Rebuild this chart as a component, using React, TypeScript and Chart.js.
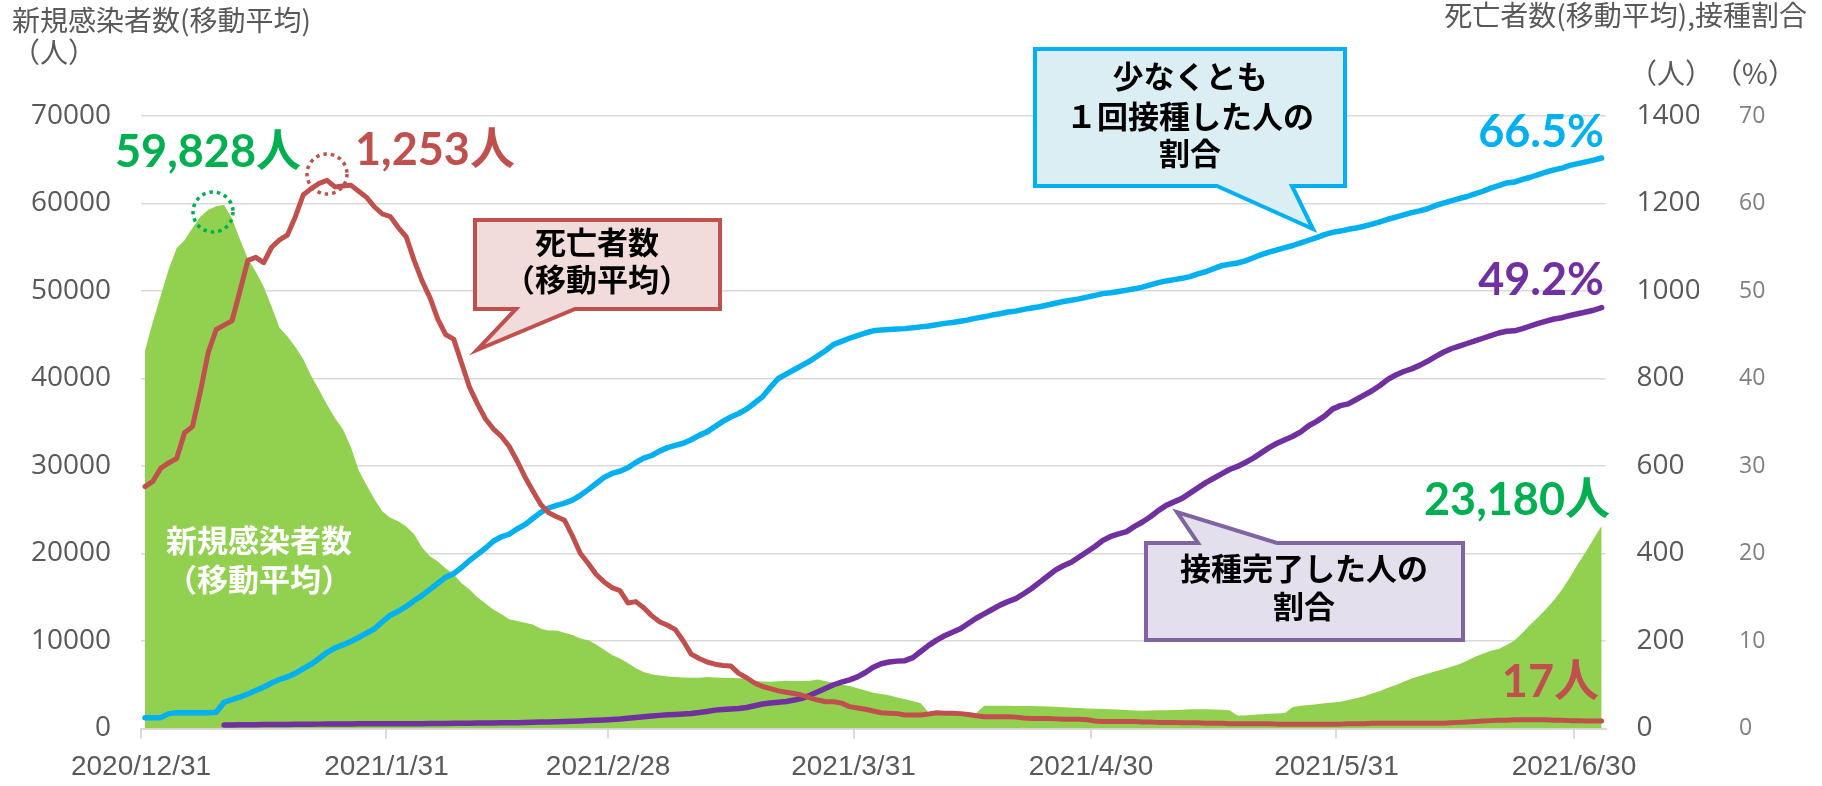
import React, { useEffect, useRef } from 'react';
import { Chart, registerables } from 'chart.js';

Chart.register(...registerables);

// ---- categories (daily, 2020/12/31 .. 2021/7/3) ----
const CATEGORIES: string[] = (() => {
  const out: string[] = [];
  for (let i = 0; i < 185; i++) {
    const d = new Date(2020, 11, 31 + i);
    out.push(`${d.getFullYear()}/${d.getMonth() + 1}/${d.getDate()}`);
  }
  return out;
})();

const TICK_LABELS = ['2020/12/31', '2021/1/31', '2021/2/28', '2021/3/31', '2021/4/30', '2021/5/31', '2021/6/30'];

// 新規感染者数(移動平均) (人)
const NEW_CASES = [
  43200, 46500, 49500, 52500, 54900, 55800, 57200, 58500, 59300, 59700,
  59828, 58300, 55900, 53700, 52200, 50500, 48200, 45800, 44800, 43600,
  42200, 40300, 38700, 37000, 35500, 34200, 32200, 29500, 27800, 26200,
  24800, 24100, 23700, 23100, 22200, 20700, 19700, 19100, 18300, 17600,
  16600, 15900, 15000, 14300, 13600, 13100, 12500, 12300, 12100, 11900,
  11400, 11200, 11200, 10950, 10700, 10300, 10100, 9600, 9000, 8400,
  8000, 7500, 6900, 6450, 6200, 6050, 5950, 5880, 5820, 5810,
  5810, 5890, 5830, 5800, 5770, 5730, 5690, 5450, 5380, 5350,
  5400, 5460, 5430, 5440, 5460, 5600, 5400, 5200, 5000, 4850,
  4600, 4350, 4100, 3950, 3800, 3550, 3350, 3150, 2900, 1800,
  1780, 1770, 1760, 1760, 1750, 1760, 2600, 2600, 2590, 2590,
  2580, 2570, 2560, 2540, 2510, 2480, 2430, 2380, 2330, 2280,
  2250, 2220, 2200, 2160, 2110, 2070, 2040, 2060, 2080, 2100,
  2120, 2150, 2190, 2200, 2190, 2160, 2130, 2100, 1480, 1500,
  1560, 1620, 1680, 1720, 1760, 2450, 2600, 2680, 2780, 2880,
  2980, 3070, 3250, 3450, 3700, 4000, 4300, 4650, 4980, 5350,
  5720, 6000, 6250, 6530, 6760, 7050, 7350, 7750, 8200, 8550,
  8900, 9100, 9550, 10050, 10950, 11900, 12750, 13700, 14700, 15900,
  17300, 18800, 20200, 21700, 23180,
];

// 死亡者数(移動平均) (人)
const DEATHS = [
  553, 565, 595, 607, 617, 676, 690, 770, 860, 912,
  922, 932, 1000, 1070, 1077, 1065, 1100, 1117, 1128, 1170,
  1220, 1234, 1246, 1253, 1238, 1240, 1242, 1228, 1214, 1192,
  1176, 1170, 1145, 1124, 1070, 1023, 985, 935, 900, 890,
  835, 780, 742, 708, 685, 668, 645, 612, 575, 543,
  512, 493, 484, 476, 440, 400, 377, 352, 335, 322,
  315, 287, 290, 276, 258, 244, 236, 226, 200, 170,
  160, 152, 147, 144, 143, 126, 116, 104, 96, 91,
  86, 83, 80, 76, 70, 65, 61, 61, 58, 50,
  47, 44, 40, 36, 35, 34, 31, 31, 31, 33,
  36, 35, 35, 34, 32, 29, 27, 27, 27, 27,
  26, 24, 23, 23, 23, 22, 21, 21, 21, 20,
  17, 16, 16, 16, 16, 16, 15, 15, 14, 14,
  14, 13, 13, 13, 12, 12, 12, 11, 11, 11,
  11, 11, 11, 10, 10, 10, 10, 10, 10, 10,
  10, 10, 11, 11, 11, 12, 12, 12, 12, 12,
  12, 12, 12, 12, 12, 13, 14, 15, 16, 17,
  18, 19, 19, 20, 20, 20, 20, 20, 19, 19,
  18, 18, 17, 17, 17,
];

// 少なくとも1回接種した人の割合 (%)
const FIRST_DOSE_PCT = [
  1.24, 1.24, 1.24, 1.7, 1.81, 1.81, 1.81, 1.81, 1.81, 1.85,
  3.0, 3.3, 3.6, 3.95, 4.35, 4.75, 5.2, 5.6, 5.9, 6.3,
  6.85, 7.35, 8.0, 8.7, 9.2, 9.55, 9.95, 10.4, 10.9, 11.4,
  12.2, 12.95, 13.4, 13.95, 14.6, 15.2, 15.9, 16.6, 17.3, 17.7,
  18.4, 19.2, 19.9, 20.6, 21.4, 21.9, 22.2, 22.8, 23.3, 24.0,
  24.7, 25.2, 25.5, 25.75, 26.1, 26.65, 27.3, 28.0, 28.7, 29.15,
  29.4, 29.8, 30.4, 30.9, 31.2, 31.7, 32.1, 32.35, 32.6, 33.0,
  33.5, 33.9, 34.5, 35.1, 35.6, 36.0, 36.5, 37.2, 37.9, 39.0,
  40.0, 40.5, 41.0, 41.5, 42.0, 42.6, 43.2, 43.9, 44.25, 44.6,
  44.9, 45.2, 45.45, 45.55, 45.6, 45.65, 45.7, 45.8, 45.9, 46.0,
  46.15, 46.3, 46.4, 46.55, 46.7, 46.9, 47.05, 47.25, 47.4, 47.6,
  47.7, 47.9, 48.05, 48.2, 48.4, 48.6, 48.8, 48.95, 49.1, 49.3,
  49.5, 49.7, 49.8, 49.95, 50.1, 50.25, 50.45, 50.7, 50.95, 51.15,
  51.3, 51.45, 51.65, 51.95, 52.2, 52.55, 52.9, 53.05, 53.2, 53.45,
  53.8, 54.15, 54.45, 54.7, 54.95, 55.2, 55.5, 55.8, 56.1, 56.45,
  56.7, 56.85, 57.05, 57.2, 57.4, 57.65, 57.9, 58.2, 58.45, 58.7,
  58.95, 59.15, 59.4, 59.75, 60.05, 60.3, 60.55, 60.8, 61.1, 61.4,
  61.75, 62.05, 62.35, 62.45, 62.75, 63.0, 63.3, 63.6, 63.85, 64.05,
  64.35, 64.55, 64.75, 64.95, 65.2,
];

// 接種完了した人の割合 (%)
const FULLY_VACC_PCT = [
  null, null, null, null, null, null, null, null, null, null,
  0.40, 0.41, 0.42, 0.43, 0.44, 0.45, 0.46, 0.46, 0.47, 0.48,
  0.48, 0.49, 0.50, 0.51, 0.52, 0.52, 0.52, 0.53, 0.53, 0.53,
  0.54, 0.54, 0.54, 0.55, 0.55, 0.55, 0.56, 0.57, 0.58, 0.59,
  0.60, 0.61, 0.62, 0.63, 0.64, 0.65, 0.66, 0.67, 0.69, 0.71,
  0.73, 0.75, 0.77, 0.79, 0.83, 0.87, 0.91, 0.95, 0.98, 1.02,
  1.08, 1.17, 1.26, 1.35, 1.44, 1.50, 1.56, 1.61, 1.66, 1.72,
  1.82, 1.95, 2.10, 2.18, 2.23, 2.28, 2.40, 2.60, 2.80, 2.92,
  3.00, 3.08, 3.25, 3.45, 3.80, 4.20, 4.60, 5.00, 5.30, 5.55,
  5.90, 6.40, 7.00, 7.40, 7.60, 7.70, 7.75, 8.10, 8.80, 9.50,
  10.1, 10.6, 11.0, 11.4, 12.0, 12.6, 13.1, 13.6, 14.1, 14.5,
  14.85, 15.4, 16.0, 16.7, 17.4, 18.1, 18.6, 19.0, 19.6, 20.2,
  20.8, 21.5, 21.95, 22.25, 22.5, 23.1, 23.6, 24.2, 24.9, 25.5,
  25.9, 26.3, 26.9, 27.5, 28.1, 28.6, 29.1, 29.6, 29.95, 30.4,
  30.9, 31.5, 32.1, 32.6, 33.0, 33.4, 33.9, 34.6, 35.1, 35.7,
  36.5, 36.9, 37.1, 37.6, 38.1, 38.6, 39.2, 39.9, 40.4, 40.8,
  41.1, 41.5, 41.97, 42.5, 43.0, 43.4, 43.7, 44.0, 44.3, 44.6,
  44.9, 45.2, 45.4, 45.45, 45.7, 46.0, 46.3, 46.55, 46.8, 46.95,
  47.2, 47.4, 47.6, 47.8, 48.1,
];

const LEFT_TICKS_MAX = 70000;
const DEATH_TICKS_MAX = 1400;
const PCT_TICKS_MAX = 70;

const JP = '"Noto Sans CJK JP", "Noto Sans", sans-serif';
const NUM = 'Lato, "Noto Sans CJK JP", sans-serif';

function drawText(ctx: CanvasRenderingContext2D, str: string, x: number, y: number, font: string, color: string, align: CanvasTextAlign) {
  ctx.font = font;
  ctx.fillStyle = color;
  ctx.textAlign = align;
  ctx.textBaseline = 'middle';
  ctx.fillText(str, x, y);
}

function callout(ctx: CanvasRenderingContext2D, pts: number[][], fill: string, stroke: string) {
  ctx.beginPath();
  ctx.moveTo(pts[0][0], pts[0][1]);
  for (let i = 1; i < pts.length; i++) ctx.lineTo(pts[i][0], pts[i][1]);
  ctx.closePath();
  ctx.fillStyle = fill;
  ctx.fill();
  ctx.lineWidth = 4;
  ctx.lineJoin = 'miter';
  ctx.strokeStyle = stroke;
  ctx.stroke();
}

function dottedCircle(ctx: CanvasRenderingContext2D, cx: number, cy: number, r: number, color: string) {
  ctx.save();
  ctx.setLineDash([3.5, 4]);
  ctx.lineWidth = 3.5;
  ctx.strokeStyle = color;
  ctx.beginPath();
  ctx.arc(cx, cy, r, 0, Math.PI * 2);
  ctx.stroke();
  ctx.restore();
}

const annotationPlugin = {
  id: 'annotations',
  afterDraw(chart: any) {
    const ctx: CanvasRenderingContext2D = chart.ctx;
    ctx.save();
    // axis titles
    drawText(ctx, '新規感染者数(移動平均)', 12, 20, `28px ${JP}`, '#595959', 'left');
    drawText(ctx, '（人）', 54, 52, `28px ${JP}`, '#595959', 'center');
    drawText(ctx, '死亡者数(移動平均),接種割合', 1807, 15, `28px ${JP}`, '#595959', 'right');
    drawText(ctx, '（人）', 1671, 73, `28px ${JP}`, '#595959', 'center');
    drawText(ctx, '（%）', 1755, 73, `28px ${JP}`, '#595959', 'center');

    // peak markers
    dottedCircle(ctx, 213, 212, 20, '#00b050');
    dottedCircle(ctx, 327, 174, 20, '#c0504d');

    // value labels
    drawText(ctx, '59,828人', 115, 152, `bold 45px ${NUM}`, '#00b050', 'left');
    drawText(ctx, '1,253人', 355, 150, `bold 45px ${NUM}`, '#c0504d', 'left');
    drawText(ctx, '66.5%', 1604, 132, `bold 45px ${NUM}`, '#00b0f0', 'right');
    drawText(ctx, '49.2%', 1604, 280, `bold 45px ${NUM}`, '#7030a0', 'right');
    drawText(ctx, '23,180人', 1610, 500, `bold 45px ${NUM}`, '#00b050', 'right');
    drawText(ctx, '17人', 1599, 682, `bold 45px ${NUM}`, '#c0504d', 'right');

    // in-area label
    drawText(ctx, '新規感染者数', 259, 540, `bold 31px ${JP}`, '#ffffff', 'center');
    drawText(ctx, '（移動平均）', 259, 579, `bold 31px ${JP}`, '#ffffff', 'center');

    // callouts
    callout(ctx, [[475, 220], [720, 220], [720, 309], [575, 309], [477, 350], [516, 309], [475, 309]], '#f2dcdb', '#c0504d');
    drawText(ctx, '死亡者数', 597, 242, `bold 31px ${JP}`, '#000000', 'center');
    drawText(ctx, '（移動平均）', 597, 279, `bold 31px ${JP}`, '#000000', 'center');

    callout(ctx, [[1035, 49], [1345, 49], [1345, 186], [1292, 186], [1313, 229], [1217, 186], [1035, 186]], '#daeef3', '#00b0f0');
    drawText(ctx, '少なくとも', 1190, 76, `bold 31px ${JP}`, '#000000', 'center');
    drawText(ctx, '１回接種した人の', 1190, 116, `bold 31px ${JP}`, '#000000', 'center');
    drawText(ctx, '割合', 1190, 153, `bold 31px ${JP}`, '#000000', 'center');

    callout(ctx, [[1146, 543], [1198, 543], [1177, 512], [1277, 543], [1463, 543], [1463, 640], [1146, 640]], '#e4dfec', '#8064a2');
    drawText(ctx, '接種完了した人の', 1304, 568, `bold 31px ${JP}`, '#000000', 'center');
    drawText(ctx, '割合', 1304, 606, `bold 31px ${JP}`, '#000000', 'center');

    ctx.restore();
  },
};

export default function App() {
  const ref = useRef<HTMLCanvasElement | null>(null);

  useEffect(() => {
    if (!ref.current) return;
    const chart = new Chart(ref.current, {
      type: 'line',
      data: {
        labels: CATEGORIES,
        datasets: [
          {
            label: '新規感染者数(移動平均)',
            data: NEW_CASES,
            yAxisID: 'y',
            fill: 'origin',
            backgroundColor: '#92d050',
            borderColor: 'rgba(0,0,0,0)',
            borderWidth: 0,
            pointRadius: 0,
            tension: 0,
            order: 10,
          },
          {
            label: '少なくとも1回接種した人の割合',
            data: FIRST_DOSE_PCT,
            yAxisID: 'y2',
            fill: false,
            borderColor: '#00b0f0',
            borderWidth: 5.5,
            borderCapStyle: 'round',
            borderJoinStyle: 'round',
            pointRadius: 0,
            tension: 0,
            order: 3,
          },
          {
            label: '接種完了した人の割合',
            data: FULLY_VACC_PCT,
            yAxisID: 'y2',
            fill: false,
            borderColor: '#7030a0',
            borderWidth: 5.5,
            borderCapStyle: 'round',
            borderJoinStyle: 'round',
            pointRadius: 0,
            tension: 0,
            order: 2,
          },
          {
            label: '死亡者数(移動平均)',
            data: DEATHS,
            yAxisID: 'y1',
            fill: false,
            borderColor: '#c0504d',
            borderWidth: 5,
            borderCapStyle: 'round',
            borderJoinStyle: 'round',
            pointRadius: 0,
            tension: 0,
            order: 1,
          },
        ],
      },
      options: {
        responsive: false,
        maintainAspectRatio: false,
        devicePixelRatio: 1,
        animation: false,
        events: [],
        layout: { padding: { top: 116, left: 0, right: 0, bottom: 0 } },
        plugins: {
          legend: { display: false },
          tooltip: { enabled: false },
          title: { display: false },
        },
        scales: {
          x: {
            type: 'category',
            offset: true,
            grid: {
              offset: true,
              drawOnChartArea: false,
              drawTicks: true,
              tickLength: 10,
              lineWidth: 2,
              color: (c: any) => (TICK_LABELS.includes(CATEGORIES[c.index]) ? '#d9d9d9' : 'rgba(0,0,0,0)'),
            },
            border: { display: true, color: '#d9d9d9', width: 2 },
            ticks: {
              autoSkip: false,
              maxRotation: 0,
              minRotation: 0,
              labelOffset: -3.96,
              padding: 12,
              color: '#595959',
              font: { family: "'Liberation Sans', Arial, sans-serif", size: 28 },
              callback: (value: any) => {
                const l = CATEGORIES[value as number];
                return TICK_LABELS.includes(l) ? l : '';
              },
            },
            afterFit: (s: any) => { s.height = 57.5; },
          },
          y: {
            position: 'left',
            min: 0,
            max: LEFT_TICKS_MAX,
            grid: { color: '#d9d9d9', lineWidth: 1.5, drawTicks: false },
            border: { display: false },
            ticks: {
              stepSize: 10000,
              padding: 30,
              color: '#595959',
              font: { family: "'Open Sans', sans-serif", size: 28 },
              callback: (v: any) => String(v),
            },
            afterFit: (s: any) => { s.width = 141; },
          },
          y1: {
            position: 'right',
            min: 0,
            max: DEATH_TICKS_MAX,
            grid: { drawOnChartArea: false, drawTicks: false },
            border: { display: false },
            ticks: {
              stepSize: 200,
              padding: 31,
              color: '#595959',
              font: { family: "'Open Sans', sans-serif", size: 28 },
              callback: (v: any) => String(v),
            },
            afterFit: (s: any) => { s.width = 93.4; },
          },
          y2: {
            position: 'right',
            min: 0,
            max: PCT_TICKS_MAX,
            grid: { drawOnChartArea: false, drawTicks: false },
            border: { display: false },
            ticks: {
              stepSize: 10,
              padding: 40,
              color: '#7f7f7f',
              font: { family: "'Open Sans', sans-serif", size: 23 },
              callback: (v: any) => String(v),
            },
            afterFit: (s: any) => { s.width = 123; },
          },
        },
      } as any,
      plugins: [annotationPlugin],
    });
    return () => chart.destroy();
  }, []);

  return (
    <div style={{ position: 'fixed', left: 0, top: 0, width: 1822, height: 786, background: '#ffffff' }}>
      <canvas ref={ref} width={1822} height={786} style={{ display: 'block', width: 1822, height: 786 }} />
    </div>
  );
}
